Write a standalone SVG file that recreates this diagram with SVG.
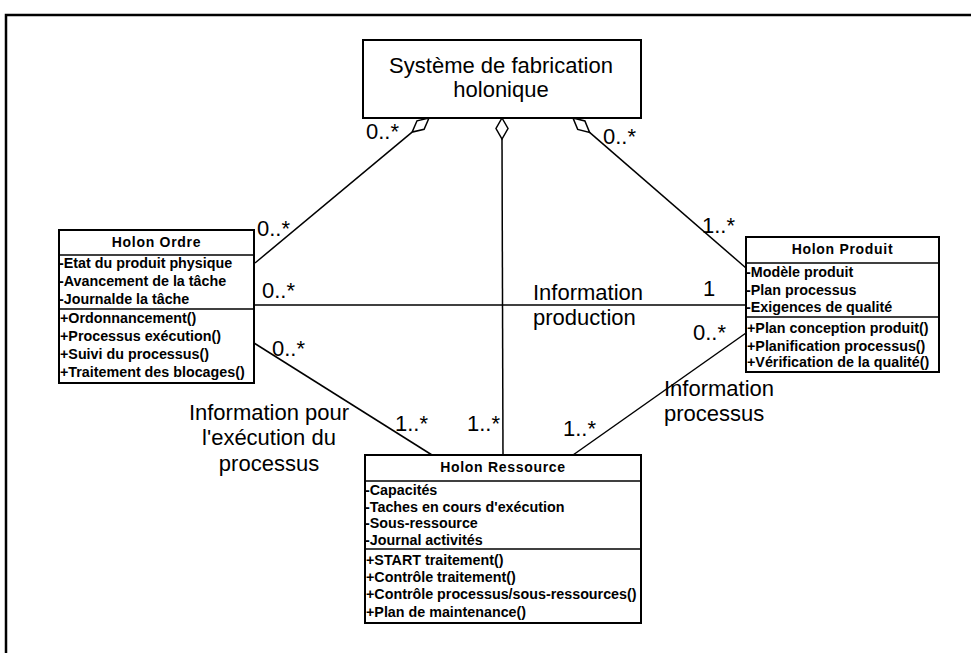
<svg xmlns="http://www.w3.org/2000/svg" width="971" height="653" viewBox="0 0 971 653">
<style>
.bg{fill:#fff}
.frame{fill:none;stroke:#000;stroke-width:2.5}
.box{fill:#fff;stroke:#000;stroke-width:2}
.div{stroke:#000;stroke-width:1.5}
.conn{stroke:#000;stroke-width:1.5;fill:none}
.dia{fill:#fff;stroke:#000;stroke-width:1.5}
text{font-family:"Liberation Sans",Arial,sans-serif;fill:#000}
.hdr{font-size:14px;font-weight:bold;letter-spacing:0.7px;text-anchor:middle}
.item{font-size:14.3px;font-weight:bold}
.lbl{font-size:22px}
.mid{text-anchor:middle}
</style>
<rect class="bg" x="0" y="0" width="971" height="653"/>
<path class="frame" d="M6,653 V15 H971"/>

<g id="connectors">
  <line class="conn" x1="412.1" y1="132.1" x2="255" y2="263"/>
  <line class="conn" x1="502" y1="139" x2="503" y2="455"/>
  <line class="conn" x1="589.6" y1="132.4" x2="746" y2="268"/>
  <line class="conn" x1="254" y1="305" x2="746" y2="305"/>
  <line class="conn" x1="254" y1="343" x2="432" y2="455"/>
  <line class="conn" x1="746" y1="333" x2="573" y2="455"/>
  <polygon class="dia" points="429,118 424.1,129.3 412.1,132.1 417,120.8"/>
  <polygon class="dia" points="502,118 508,128.5 502,139 496,128.5"/>
  <polygon class="dia" points="573,118 584.9,121 589.6,132.4 577.7,129.4"/>
  <text class="lbl" x="366" y="139">0..*</text>
  <text class="lbl" x="603" y="144">0..*</text>
  <text class="lbl" x="257" y="236">0..*</text>
  <text class="lbl" x="262" y="298">0..*</text>
  <text class="lbl" x="272" y="356">0..*</text>
  <text class="lbl" x="702" y="233">1..*</text>
  <text class="lbl" x="703" y="296">1</text>
  <text class="lbl" x="693" y="340">0..*</text>
  <text class="lbl" x="395" y="431">1..*</text>
  <text class="lbl" x="467" y="431">1..*</text>
  <text class="lbl" x="563" y="436">1..*</text>
  <text class="lbl" x="533" y="300">Information</text>
  <text class="lbl" x="533" y="325">production</text>
  <text class="lbl mid" x="269" y="420">Information pour</text>
  <text class="lbl mid" x="269" y="445">l'exécution du</text>
  <text class="lbl mid" x="269" y="471">processus</text>
  <text class="lbl" x="664" y="396">Information</text>
  <text class="lbl" x="664" y="421">processus</text>
</g>

<g id="systeme">
  <rect class="box" x="363" y="40" width="278" height="78"/>
  <text class="lbl mid" x="501" y="73">Système de fabrication</text>
  <text class="lbl mid" x="501" y="97">holonique</text>
</g>

<g id="holon-ordre">
  <rect class="box" x="59" y="230" width="195" height="153"/>
  <line class="div" x1="59" y1="255" x2="254" y2="255"/>
  <line class="div" x1="59" y1="309" x2="254" y2="309"/>
  <text class="hdr" x="156.5" y="247">Holon Ordre</text>
  <text class="item" x="59" y="268">-Etat du produit physique</text>
  <text class="item" x="59" y="286">-Avancement de la tâche</text>
  <text class="item" x="59" y="304">-Journalde la tâche</text>
  <text class="item" x="60" y="323">+Ordonnancement()</text>
  <text class="item" x="60" y="341">+Processus exécution()</text>
  <text class="item" x="60" y="359">+Suivi du processus()</text>
  <text class="item" x="60" y="377">+Traitement des blocages()</text>
</g>

<g id="holon-produit">
  <rect class="box" x="746" y="237" width="193" height="135"/>
  <line class="div" x1="746" y1="263" x2="939" y2="263"/>
  <line class="div" x1="746" y1="317" x2="939" y2="317"/>
  <text class="hdr" x="842.5" y="254">Holon Produit</text>
  <text class="item" x="746" y="277">-Modèle produit</text>
  <text class="item" x="746" y="295">-Plan processus</text>
  <text class="item" x="746" y="312">-Exigences de qualité</text>
  <text class="item" x="747" y="333">+Plan conception produit()</text>
  <text class="item" x="747" y="351">+Planification processus()</text>
  <text class="item" x="747" y="367">+Vérification de la qualité()</text>
</g>

<g id="holon-ressource">
  <rect class="box" x="365" y="455" width="276" height="168"/>
  <line class="div" x1="365" y1="481" x2="641" y2="481"/>
  <line class="div" x1="365" y1="549" x2="641" y2="549"/>
  <text class="hdr" x="503" y="472">Holon Ressource</text>
  <text class="item" x="365" y="495">-Capacités</text>
  <text class="item" x="365" y="512">-Taches en cours d'exécution</text>
  <text class="item" x="365" y="528">-Sous-ressource</text>
  <text class="item" x="365" y="545">-Journal activités</text>
  <text class="item" x="366" y="565">+START traitement()</text>
  <text class="item" x="366" y="582">+Contrôle traitement()</text>
  <text class="item" x="366" y="599">+Contrôle processus/sous-ressources()</text>
  <text class="item" x="366" y="617">+Plan de maintenance()</text>
</g>
</svg>
